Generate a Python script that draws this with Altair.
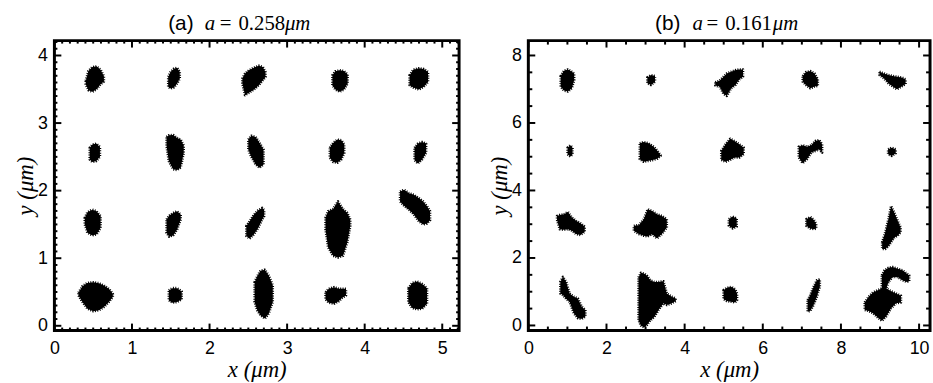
import altair as alt
import pandas as pd

# ---------------- panel (a): a = 0.258 um ----------------
# every trajectory cloud is traced as vertical slices (x, y_low, y_high) in um
A_ROW1 = {
    "a11": [(0.404, 3.575, 3.624), (0.438, 3.487, 3.771), (0.489, 3.463, 3.829), (0.544, 3.502, 3.839), (0.595, 3.575, 3.790), (0.638, 3.614, 3.693)],
    "a12": [(1.467, 3.536, 3.683), (1.497, 3.512, 3.756), (1.539, 3.526, 3.805), (1.582, 3.585, 3.820), (1.616, 3.658, 3.756)],
    "a13": [(2.423, 3.585, 3.658), (2.457, 3.414, 3.732), (2.508, 3.448, 3.780), (2.572, 3.497, 3.820), (2.636, 3.561, 3.849), (2.687, 3.634, 3.829), (2.721, 3.683, 3.756)],
    "a14": [(3.584, 3.561, 3.707), (3.622, 3.497, 3.766), (3.678, 3.463, 3.780), (3.733, 3.497, 3.771), (3.780, 3.585, 3.717)],
    "a15": [(4.579, 3.561, 3.707), (4.626, 3.526, 3.790), (4.698, 3.497, 3.810), (4.762, 3.536, 3.800), (4.817, 3.610, 3.756)],
}
A_ROW2 = {
    "a21": [(0.455, 2.462, 2.633), (0.489, 2.423, 2.682), (0.540, 2.437, 2.696), (0.587, 2.501, 2.647)],
    "a22": [(1.446, 2.657, 2.794), (1.475, 2.437, 2.818), (1.531, 2.315, 2.823), (1.582, 2.305, 2.779), (1.628, 2.340, 2.755), (1.667, 2.559, 2.667)],
    "a23": [(2.500, 2.608, 2.755), (2.538, 2.501, 2.813), (2.594, 2.388, 2.794), (2.645, 2.340, 2.706), (2.696, 2.388, 2.608)],
    "a24": [(3.550, 2.486, 2.633), (3.593, 2.423, 2.706), (3.648, 2.413, 2.755), (3.699, 2.462, 2.745), (3.737, 2.559, 2.682)],
    "a25": [(4.643, 2.452, 2.633), (4.685, 2.403, 2.696), (4.741, 2.462, 2.721), (4.792, 2.559, 2.696)],
}
A_ROW3 = {
    "a31": [(0.391, 1.500, 1.597), (0.425, 1.377, 1.680), (0.489, 1.338, 1.719), (0.544, 1.353, 1.695), (0.595, 1.451, 1.622)],
    "a32": [(1.446, 1.377, 1.573), (1.480, 1.319, 1.631), (1.531, 1.338, 1.670), (1.582, 1.426, 1.695), (1.628, 1.573, 1.646)],
    "a33": [(2.474, 1.329, 1.475), (2.517, 1.290, 1.548), (2.572, 1.353, 1.646), (2.628, 1.451, 1.710), (2.679, 1.573, 1.744), (2.704, 1.622, 1.710)],
    "a34": [(3.495, 1.426, 1.597), (3.529, 1.158, 1.695), (3.593, 1.036, 1.729), (3.656, 1.011, 1.841), (3.720, 1.036, 1.729), (3.776, 1.231, 1.670), (3.814, 1.475, 1.573)],
    "a35": [(4.456, 1.841, 1.988), (4.507, 1.778, 2.012), (4.571, 1.719, 1.963), (4.634, 1.646, 1.939), (4.698, 1.548, 1.890), (4.753, 1.500, 1.841), (4.804, 1.514, 1.768), (4.843, 1.563, 1.695)],
}
A_ROW4 = {
    "a41": [(0.310, 0.449, 0.489), (0.361, 0.352, 0.586), (0.425, 0.254, 0.635), (0.502, 0.215, 0.645), (0.574, 0.230, 0.630), (0.638, 0.278, 0.596), (0.702, 0.352, 0.547), (0.753, 0.425, 0.474)],
    "a42": [(1.475, 0.376, 0.523), (1.522, 0.342, 0.557), (1.582, 0.352, 0.557), (1.641, 0.391, 0.508)],
    "a43": [(2.581, 0.352, 0.645), (2.615, 0.230, 0.733), (2.657, 0.156, 0.816), (2.713, 0.108, 0.830), (2.764, 0.181, 0.742), (2.815, 0.352, 0.596)],
    "a44": [(3.495, 0.391, 0.498), (3.537, 0.342, 0.547), (3.605, 0.327, 0.572), (3.665, 0.362, 0.547), (3.707, 0.410, 0.547), (3.759, 0.449, 0.547)],
    "a45": [(4.562, 0.352, 0.557), (4.613, 0.264, 0.635), (4.677, 0.244, 0.655), (4.741, 0.254, 0.620), (4.804, 0.327, 0.557)],
}

# ---------------- panel (b): a = 0.161 um ----------------
B_ROW1 = {
    "b11": [(0.827, 7.078, 7.390), (0.911, 6.960, 7.547), (1.013, 6.931, 7.586), (1.114, 7.029, 7.517), (1.173, 7.273, 7.468)],
    "b12": [(3.046, 7.175, 7.351), (3.139, 7.126, 7.420), (3.241, 7.224, 7.390)],
    "b13": [(4.785, 7.107, 7.205), (4.895, 7.078, 7.253), (4.996, 6.862, 7.371), (5.080, 6.804, 7.468), (5.190, 7.029, 7.517), (5.300, 7.126, 7.566), (5.401, 7.293, 7.586), (5.494, 7.371, 7.586)],
    "b14": [(7.021, 7.224, 7.390), (7.105, 7.126, 7.508), (7.215, 7.029, 7.537), (7.325, 7.078, 7.468), (7.409, 7.097, 7.293)],
    "b15": [(8.987, 7.420, 7.517), (9.097, 7.322, 7.468), (9.215, 7.175, 7.420), (9.325, 7.078, 7.390), (9.435, 7.000, 7.371), (9.553, 7.078, 7.351), (9.654, 7.156, 7.293)],
}
B_ROW2 = {
    "b21": [(1.004, 5.074, 5.269), (1.072, 5.005, 5.337), (1.131, 5.074, 5.269)],
    "b22": [(2.852, 4.927, 5.396), (2.954, 4.849, 5.435), (3.080, 4.878, 5.396), (3.207, 4.907, 5.298), (3.308, 4.946, 5.171), (3.384, 5.025, 5.044)],
    "b23": [(4.937, 4.907, 5.171), (5.046, 4.849, 5.367), (5.165, 4.907, 5.533), (5.274, 4.976, 5.465), (5.401, 4.976, 5.367), (5.511, 5.074, 5.269)],
    "b24": [(6.920, 4.976, 5.298), (7.021, 4.810, 5.337), (7.131, 4.927, 5.298), (7.241, 5.122, 5.337), (7.342, 5.171, 5.465), (7.443, 5.220, 5.494), (7.519, 5.122, 5.367)],
    "b25": [(9.207, 5.074, 5.220), (9.300, 5.025, 5.269), (9.401, 5.103, 5.220)],
}
B_ROW3 = {
    "b31": [(0.734, 3.128, 3.245), (0.802, 2.854, 3.275), (0.911, 2.835, 3.294), (1.013, 2.854, 3.363), (1.114, 2.806, 3.197), (1.224, 2.708, 3.099), (1.333, 2.679, 3.030), (1.443, 2.776, 2.933)],
    "b32": [(2.700, 2.806, 2.952), (2.827, 2.708, 2.972), (2.954, 2.659, 3.148), (3.055, 2.639, 3.441), (3.165, 2.708, 3.392), (3.291, 2.581, 3.294), (3.418, 2.708, 3.245), (3.544, 2.903, 3.148)],
    "b33": [(5.131, 2.952, 3.148), (5.232, 2.874, 3.226), (5.333, 2.933, 3.167)],
    "b34": [(7.114, 2.952, 3.148), (7.215, 2.874, 3.216), (7.308, 2.854, 3.128), (7.367, 2.874, 3.001)],
    "b35": [(9.055, 2.268, 2.464), (9.131, 2.268, 2.757), (9.215, 2.346, 3.148), (9.283, 2.464, 3.539), (9.367, 2.610, 3.343), (9.451, 2.659, 3.099), (9.527, 2.757, 2.903)],
}
B_ROW4 = {
    "b41": [(0.819, 0.948, 1.290), (0.886, 0.899, 1.437), (0.970, 0.782, 1.290), (1.055, 0.704, 0.948), (1.165, 0.362, 0.851), (1.266, 0.215, 0.802), (1.367, 0.196, 0.557), (1.460, 0.264, 0.460)],
    "b42": [(2.820, 0.150, 1.420), (2.880, 0.000, 1.560), (2.960, -0.060, 1.540), (3.040, 0.020, 1.470), (3.122, 0.150, 1.339), (3.224, 0.250, 1.290), (3.333, 0.460, 1.290), (3.460, 0.655, 1.310), (3.544, 0.606, 0.948), (3.671, 0.655, 0.851), (3.772, 0.724, 0.802)],
    "b43": [(4.996, 0.782, 1.046), (5.080, 0.724, 1.115), (5.190, 0.704, 1.144), (5.291, 0.684, 1.075), (5.342, 0.753, 0.948)],
    "b44": [(7.148, 0.411, 0.753), (7.215, 0.430, 0.899), (7.300, 0.606, 1.144), (7.384, 0.851, 1.339), (7.460, 1.144, 1.369)],
    "b45hook": [(9.046, 0.948, 1.486), (9.114, 0.899, 1.633), (9.215, 1.290, 1.711), (9.325, 1.437, 1.730), (9.451, 1.437, 1.682), (9.578, 1.339, 1.633), (9.688, 1.290, 1.535), (9.747, 1.310, 1.486)],
    "b45body": [(8.608, 0.460, 0.684), (8.709, 0.430, 0.851), (8.819, 0.362, 0.978), (8.945, 0.235, 1.046), (9.046, 0.137, 1.095), (9.156, 0.264, 1.095), (9.283, 0.509, 1.017), (9.409, 0.655, 0.948), (9.536, 0.684, 0.880)],
}

# axes
A_XDOMAIN = [0, 5.217]
A_YDOMAIN = [-0.07, 4.22]
A_XMAJOR = [0, 1, 2, 3, 4, 5]
A_YMAJOR = [0, 1, 2, 3, 4]
A_MINOR_STEP = 0.1
B_XDOMAIN = [0, 10.28]
B_YDOMAIN = [-0.15, 8.44]
B_XMAJOR = [0, 2, 4, 6, 8, 10]
B_YMAJOR = [0, 2, 4, 6, 8]
B_MINOR_STEP = 0.5

# title pieces: (text, left offset px from plot left, font, style)
A_TITLE = [("(a)", 115, "Liberation Sans", "normal"), ("a", 152, "Liberation Serif", "italic"),
           ("=", 167, "Liberation Serif", "normal"), ("0.258", 186, "Liberation Serif", "normal"),
           ("μm", 233, "Liberation Serif", "italic")]
B_TITLE = [("(b)", 128, "Liberation Sans", "normal"), ("a", 166, "Liberation Serif", "italic"),
           ("=", 180, "Liberation Serif", "normal"), ("0.161", 199, "Liberation Serif", "normal"),
           ("μm", 247, "Liberation Serif", "italic")]

W_A, W_B, H = 409, 406, 293


def blob_frame(rows):
    recs = []
    for group in rows:
        for name, slices in group.items():
            for x, lo, hi in slices:
                recs.append({"blob": name, "x": x, "lo": lo, "hi": hi})
    return pd.DataFrame(recs)


def minor_ticks(lo, hi, step, majors):
    n = int(round((hi - lo) / step))
    vals = [round(lo + i * step, 3) for i in range(n + 1)]
    return [v for v in vals if v <= hi and all(abs(v - m) > 1e-6 for m in majors)]


def panel(rows, xdom, ydom, xmaj, ymaj, step, width, title_pieces, minor_len):
    xs = alt.Scale(domain=xdom, nice=False, zero=False)
    ys = alt.Scale(domain=ydom, nice=False, zero=False)
    xaxis = alt.Axis(
        values=xmaj, ticks=False, domain=False, grid=False, title="x (μm)",
        labelFont="Liberation Sans", labelFontSize=18, labelColor="black", labelPadding=9,
        titleFont="Liberation Serif", titleFontStyle="italic", titleFontWeight="normal",
        titleFontSize=23, titleColor="black", titlePadding=1, labelFlush=False)
    yaxis = alt.Axis(
        values=ymaj, ticks=False, domain=False, grid=False, title="y (μm)",
        labelFont="Liberation Sans", labelFontSize=18, labelColor="black", labelPadding=7,
        titleFont="Liberation Serif", titleFontStyle="italic", titleFontWeight="normal",
        titleFontSize=23, titleColor="black", titlePadding=0, labelFlush=False)
    df = blob_frame(rows)
    blobs = alt.Chart(df).mark_area(
        color="black", stroke="black", strokeWidth=2.6, strokeDash=[1, 1.4],
        strokeJoin="round", interpolate="linear"
    ).encode(
        x=alt.X("x:Q", scale=xs, axis=xaxis),
        y=alt.Y("hi:Q", scale=ys, axis=yaxis),
        y2="lo:Q",
        detail="blob:N",
    )
    layers = [blobs]
    xmin = minor_ticks(0, xdom[1], step, xmaj)
    ymin = minor_ticks(0, ydom[1], step, ymaj)
    for vals, ln in ((xmaj, 7), (xmin, minor_len)):
        d = pd.DataFrame({"t": vals})
        base = alt.Chart(d).mark_rule(color="black", strokeWidth=2)
        layers.append(base.encode(x=alt.X("t:Q", scale=xs, axis=xaxis), y=alt.value(H), y2=alt.value(H - ln)))
        layers.append(base.encode(x=alt.X("t:Q", scale=xs, axis=xaxis), y=alt.value(0), y2=alt.value(ln)))
    for vals, ln in ((ymaj, 7), (ymin, minor_len)):
        d = pd.DataFrame({"t": vals})
        base = alt.Chart(d).mark_rule(color="black", strokeWidth=2)
        layers.append(base.encode(y=alt.Y("t:Q", scale=ys, axis=yaxis), x=alt.value(0), x2=alt.value(ln)))
        layers.append(base.encode(y=alt.Y("t:Q", scale=ys, axis=yaxis), x=alt.value(width), x2=alt.value(width - ln)))
    for text, off, font, style in title_pieces:
        layers.append(
            alt.Chart(pd.DataFrame({"t": [text]})).mark_text(
                font=font, fontSize=21, fontStyle=style, align="left", baseline="alphabetic", color="black"
            ).encode(text="t:N", x=alt.value(off), y=alt.value(-11))
        )
    return alt.layer(*layers).properties(width=width, height=H)


left = panel([A_ROW1, A_ROW2, A_ROW3, A_ROW4], A_XDOMAIN, A_YDOMAIN, A_XMAJOR, A_YMAJOR,
             A_MINOR_STEP, W_A, A_TITLE, 3)
right = panel([B_ROW1, B_ROW2, B_ROW3, B_ROW4], B_XDOMAIN, B_YDOMAIN, B_XMAJOR, B_YMAJOR,
              B_MINOR_STEP, W_B, B_TITLE, 4)

chart = alt.hconcat(left, right, spacing=25).properties(
    padding={"left": 13, "top": 9, "right": 0, "bottom": 0}, background="white"
).configure_view(stroke="black", strokeWidth=3)

chart.save("out.html", embed_options={"renderer": "svg", "actions": False})
